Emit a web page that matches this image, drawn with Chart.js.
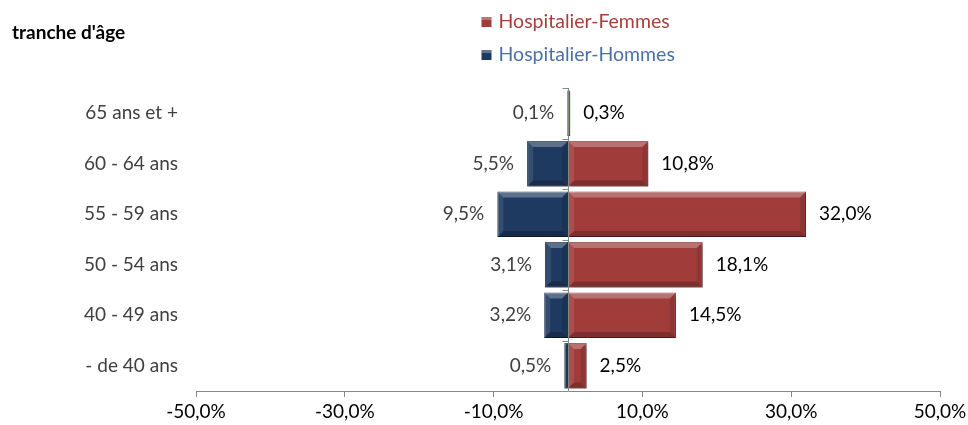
<!DOCTYPE html>
<html>
<head>
<meta charset="utf-8">
<script src="https://cdn.jsdelivr.net/npm/chart.js@4.4.1/dist/chart.umd.min.js"></script>
<style>
    html, body { margin: 0; padding: 0; background: #fff; }
    #wrap { width: 968px; height: 425px; }
</style>
</head>
<body>
<div id="wrap"><canvas id="pyramide"></canvas></div>
<script>
// Tranches d'âge (du haut vers le bas)
var tranches = ['65 ans et +', '60 - 64 ans', '55 - 59 ans', '50 - 54 ans', '40 - 49 ans', '- de 40 ans'];
// Pourcentages par sexe
var femmes = [0.3, 10.8, 32.0, 18.1, 14.5, 2.5];
var hommes = [0.1, 5.5, 9.5, 3.1, 3.2, 0.5];
// Graduations de l'axe horizontal
var graduations = [-50, -30, -10, 10, 30, 50];

var POLICE = 'Lato, "Open Sans", sans-serif';

function formatPct(v) {
    return Math.abs(v).toFixed(1).replace('.', ',') + '%';
}

// Ombre sous les barres
var ombrePlugin = {
    id: 'ombre',
    beforeDatasetsDraw: function (chart) {
        var ctx = chart.ctx;
        ctx.save();
        ctx.shadowColor = 'rgba(0,0,0,0.35)';
        ctx.shadowOffsetX = 2;
        ctx.shadowOffsetY = 2;
        ctx.shadowBlur = 3;
    },
    afterDatasetsDraw: function (chart) {
        chart.ctx.restore();
    }
};

// Effet biseau + axe zéro + étiquettes + légende
var decorPlugin = {
    id: 'decor',
    afterDatasetsDraw: function (chart) {
        var ctx = chart.ctx;
        var area = chart.chartArea;
        var xs = chart.scales.x;

        // biseau sur chaque barre
        chart.data.datasets.forEach(function (ds, i) {
            chart.getDatasetMeta(i).data.forEach(function (bar) {
                var p = bar.getProps(['x', 'y', 'base', 'height'], true);
                var l = Math.min(p.x, p.base), r = Math.max(p.x, p.base);
                var t = p.y - p.height / 2, b = p.y + p.height / 2;
                var e = Math.min(6, (r - l) / 2, (b - t) / 2);
                if (e < 1) return;
                ctx.save();
                ctx.fillStyle = 'rgba(255,255,255,0.28)';
                ctx.beginPath();
                ctx.moveTo(l, t); ctx.lineTo(r, t); ctx.lineTo(r - e, t + e); ctx.lineTo(l + e, t + e);
                ctx.closePath(); ctx.fill();
                ctx.fillStyle = 'rgba(255,255,255,0.10)';
                ctx.beginPath();
                ctx.moveTo(l, t); ctx.lineTo(l + e, t + e); ctx.lineTo(l + e, b - e); ctx.lineTo(l, b);
                ctx.closePath(); ctx.fill();
                ctx.fillStyle = 'rgba(0,0,0,0.10)';
                ctx.beginPath();
                ctx.moveTo(r, t); ctx.lineTo(r, b); ctx.lineTo(r - e, b - e); ctx.lineTo(r - e, t + e);
                ctx.closePath(); ctx.fill();
                ctx.fillStyle = 'rgba(0,0,0,0.22)';
                ctx.beginPath();
                ctx.moveTo(l, b); ctx.lineTo(l + e, b - e); ctx.lineTo(r - e, b - e); ctx.lineTo(r, b);
                ctx.closePath(); ctx.fill();
                ctx.restore();
            });
        });

        // axe vertical au zéro avec petites graduations
        var x0 = Math.round(xs.getPixelForValue(0)) + 0.5;
        ctx.save();
        ctx.strokeStyle = '#868686';
        ctx.lineWidth = 1;
        ctx.beginPath();
        ctx.moveTo(x0, area.top);
        ctx.lineTo(x0, area.bottom);
        var pas = (area.bottom - area.top) / tranches.length;
        for (var k = 0; k < tranches.length; k++) {
            var yy = Math.round(area.top + k * pas) + 0.5;
            ctx.moveTo(x0 - 6, yy);
            ctx.lineTo(x0, yy);
        }
        ctx.stroke();
        ctx.restore();

        // étiquettes de valeurs
        ctx.save();
        ctx.font = '19px ' + POLICE;
        ctx.textBaseline = 'middle';
        chart.data.datasets.forEach(function (ds, i) {
            chart.getDatasetMeta(i).data.forEach(function (bar, j) {
                var v = ds.data[j];
                if (v < 0) {
                    ctx.fillStyle = '#404040';
                    ctx.textAlign = 'right';
                    ctx.fillText(formatPct(v), bar.x - 13, bar.y);
                } else {
                    ctx.fillStyle = '#000000';
                    ctx.textAlign = 'left';
                    ctx.fillText(formatPct(v), bar.x + 13, bar.y);
                }
            });
        });
        ctx.restore();

        // titre de l'axe des tranches
        ctx.save();
        ctx.font = 'bold 19px ' + POLICE;
        ctx.fillStyle = '#000';
        ctx.textAlign = 'left';
        ctx.textBaseline = 'middle';
        ctx.fillText("tranche d'âge", 12, 33);
        ctx.restore();

        // légende
        var items = [
            { ds: chart.data.datasets[0], y: 22 },
            { ds: chart.data.datasets[1], y: 55 }
        ];
        var lx = x0 - 87;
        ctx.save();
        ctx.font = '19.5px ' + POLICE;
        ctx.textBaseline = 'middle';
        ctx.textAlign = 'left';
        items.forEach(function (it) {
            ctx.fillStyle = it.ds.backgroundColor;
            ctx.fillRect(lx, it.y - 5, 10, 10);
            ctx.fillStyle = 'rgba(255,255,255,0.3)';
            ctx.fillRect(lx, it.y - 5, 10, 3);
            ctx.fillStyle = it.ds.legendColor;
            ctx.fillText(it.ds.label, lx + 17, it.y);
        });
        ctx.restore();
    }
};

var ctx = document.getElementById('pyramide').getContext('2d');
new Chart(ctx, {
    type: 'bar',
    data: {
        labels: tranches,
        datasets: [
            {
                label: 'Hospitalier-Femmes',
                data: femmes,
                backgroundColor: '#A03C3A',
                borderColor: '#7E2C2A',
                borderWidth: 1,
                legendColor: '#A5403D',
                barPercentage: 0.9,
                categoryPercentage: 1.0
            },
            {
                label: 'Hospitalier-Hommes',
                data: hommes.map(function (v) { return -v; }),
                backgroundColor: '#1F3A60',
                borderColor: '#162A47',
                borderWidth: 1,
                legendColor: '#4A71A8',
                barPercentage: 0.9,
                categoryPercentage: 1.0
            }
        ]
    },
    options: {
        indexAxis: 'y',
        responsive: true,
        maintainAspectRatio: false,
        animation: false,
        layout: {
            padding: { top: 88, right: 28, left: 0, bottom: 0 }
        },
        plugins: {
            legend: { display: false },
            tooltip: { enabled: false }
        },
        scales: {
            x: {
                stacked: true,
                min: -50,
                max: 50,
                afterBuildTicks: function (scale) {
                    scale.ticks = graduations.map(function (v) { return { value: v }; });
                },
                afterFit: function (scale) {
                    scale.height = 34;
                    scale.paddingLeft = 0;
                    scale.paddingRight = 0;
                },
                grid: {
                    display: true,
                    drawOnChartArea: false,
                    drawTicks: true,
                    tickLength: 6,
                    color: '#868686'
                },
                border: { display: true, color: '#868686' },
                ticks: {
                    padding: 3,
                    color: '#000',
                    font: { family: POLICE, size: 19 },
                    maxRotation: 0,
                    callback: function (v) {
                        return Number(v).toFixed(1).replace('.', ',') + '%';
                    }
                }
            },
            y: {
                stacked: true,
                afterFit: function (scale) { scale.width = 196; },
                grid: { display: false, drawTicks: false, tickLength: 0 },
                border: { display: false },
                ticks: {
                    padding: 18,
                    color: '#404040',
                    font: { family: POLICE, size: 19 }
                }
            }
        }
    },
    plugins: [ombrePlugin, decorPlugin]
});
</script>
</body>
</html>
